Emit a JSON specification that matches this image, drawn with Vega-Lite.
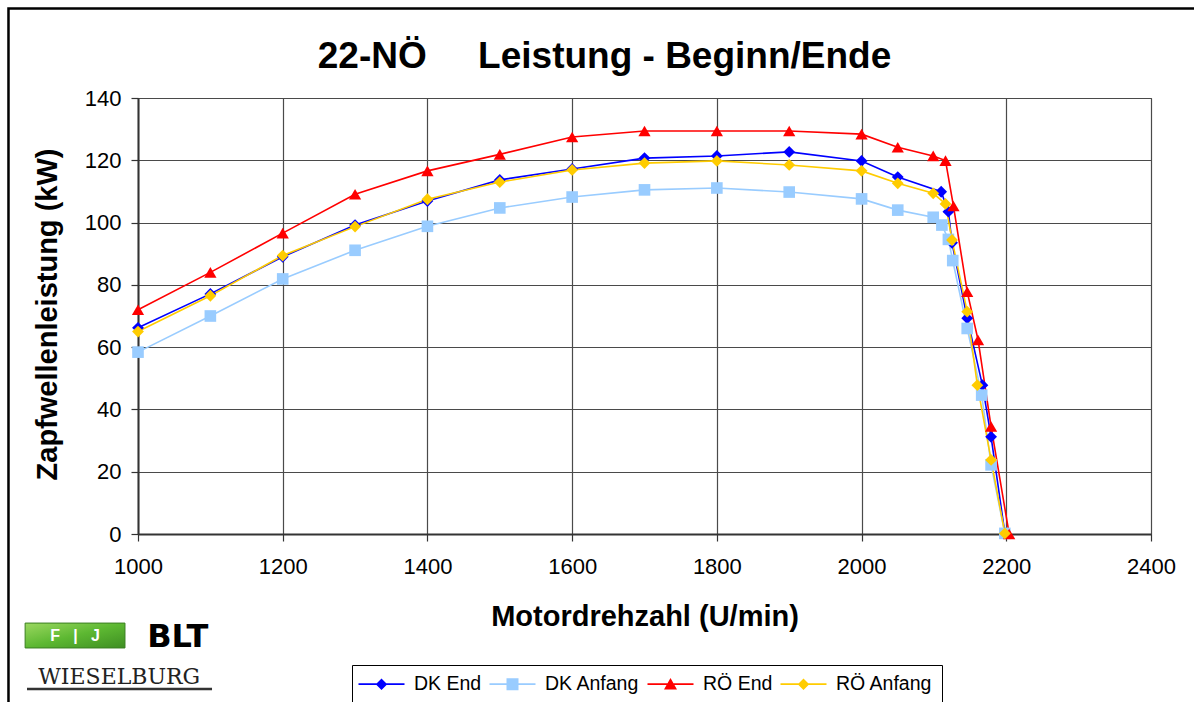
{
  "$schema": "https://vega.github.io/schema/vega-lite/v6.json",
  "width": 1013,
  "height": 436,
  "autosize": {"type": "none"},
  "padding": {"left": 138, "top": 98, "right": 43, "bottom": 168},
  "background": "white",
  "title": {
    "text": "22-NÖ\u00a0\u00a0\u00a0\u00a0\u00a0Leistung - Beginn/Ende",
    "font": "Liberation Sans",
    "fontSize": 37,
    "fontWeight": "bold",
    "color": "black",
    "anchor": "middle",
    "baseline": "bottom",
    "offset": -106,
    "dx": -40
  },
  "config": {
    "view": {"stroke": "#444444", "strokeWidth": 1},
    "axis": {
      "labelFont": "Liberation Sans",
      "labelFontSize": 22,
      "labelColor": "black",
      "labelFlush": false,
      "labelOverlap": false,
      "titleFont": "Liberation Sans",
      "titleFontSize": 29,
      "titleFontWeight": "bold",
      "titleColor": "black",
      "grid": true,
      "gridColor": "#4a4a4a",
      "gridWidth": 1.2,
      "domainColor": "#333333",
      "domainWidth": 2,
      "tickColor": "#333333",
      "tickWidth": 1.2,
      "tickSize": 7
    }
  },
  "datasets": {
    "rows": [
      {"rpm": 1000, "kW": 66.2, "series": "DK End"},
      {"rpm": 1100, "kW": 77.1, "series": "DK End"},
      {"rpm": 1200, "kW": 89.0, "series": "DK End"},
      {"rpm": 1300, "kW": 99.2, "series": "DK End"},
      {"rpm": 1400, "kW": 106.9, "series": "DK End"},
      {"rpm": 1500, "kW": 113.7, "series": "DK End"},
      {"rpm": 1600, "kW": 117.2, "series": "DK End"},
      {"rpm": 1700, "kW": 120.7, "series": "DK End"},
      {"rpm": 1800, "kW": 121.4, "series": "DK End"},
      {"rpm": 1900, "kW": 122.7, "series": "DK End"},
      {"rpm": 2000, "kW": 119.8, "series": "DK End"},
      {"rpm": 2050, "kW": 114.6, "series": "DK End"},
      {"rpm": 2110, "kW": 109.9, "series": "DK End"},
      {"rpm": 2120, "kW": 103.5, "series": "DK End"},
      {"rpm": 2125, "kW": 93.5, "series": "DK End"},
      {"rpm": 2146, "kW": 69.3, "series": "DK End"},
      {"rpm": 2167, "kW": 47.8, "series": "DK End"},
      {"rpm": 2179, "kW": 31.2, "series": "DK End"},
      {"rpm": 2198, "kW": 0.3, "series": "DK End"},
      {"rpm": 1000, "kW": 58.4, "series": "DK Anfang"},
      {"rpm": 1100, "kW": 70.0, "series": "DK Anfang"},
      {"rpm": 1200, "kW": 81.9, "series": "DK Anfang"},
      {"rpm": 1300, "kW": 91.1, "series": "DK Anfang"},
      {"rpm": 1400, "kW": 98.8, "series": "DK Anfang"},
      {"rpm": 1500, "kW": 104.7, "series": "DK Anfang"},
      {"rpm": 1600, "kW": 108.2, "series": "DK Anfang"},
      {"rpm": 1700, "kW": 110.5, "series": "DK Anfang"},
      {"rpm": 1800, "kW": 111.1, "series": "DK Anfang"},
      {"rpm": 1900, "kW": 109.8, "series": "DK Anfang"},
      {"rpm": 2000, "kW": 107.6, "series": "DK Anfang"},
      {"rpm": 2050, "kW": 104.0, "series": "DK Anfang"},
      {"rpm": 2099, "kW": 101.7, "series": "DK Anfang"},
      {"rpm": 2111, "kW": 99.2, "series": "DK Anfang"},
      {"rpm": 2120, "kW": 94.6, "series": "DK Anfang"},
      {"rpm": 2126, "kW": 87.8, "series": "DK Anfang"},
      {"rpm": 2146, "kW": 66.0, "series": "DK Anfang"},
      {"rpm": 2166, "kW": 44.6, "series": "DK Anfang"},
      {"rpm": 2179, "kW": 22.2, "series": "DK Anfang"},
      {"rpm": 2198, "kW": 0.2, "series": "DK Anfang"},
      {"rpm": 1000, "kW": 72.0, "series": "RÖ End"},
      {"rpm": 1100, "kW": 84.0, "series": "RÖ End"},
      {"rpm": 1200, "kW": 96.6, "series": "RÖ End"},
      {"rpm": 1300, "kW": 109.1, "series": "RÖ End"},
      {"rpm": 1400, "kW": 116.6, "series": "RÖ End"},
      {"rpm": 1500, "kW": 121.9, "series": "RÖ End"},
      {"rpm": 1600, "kW": 127.5, "series": "RÖ End"},
      {"rpm": 1700, "kW": 129.4, "series": "RÖ End"},
      {"rpm": 1800, "kW": 129.4, "series": "RÖ End"},
      {"rpm": 1900, "kW": 129.4, "series": "RÖ End"},
      {"rpm": 2000, "kW": 128.4, "series": "RÖ End"},
      {"rpm": 2050, "kW": 124.2, "series": "RÖ End"},
      {"rpm": 2099, "kW": 121.4, "series": "RÖ End"},
      {"rpm": 2116, "kW": 119.9, "series": "RÖ End"},
      {"rpm": 2127, "kW": 105.3, "series": "RÖ End"},
      {"rpm": 2146, "kW": 77.8, "series": "RÖ End"},
      {"rpm": 2161, "kW": 62.3, "series": "RÖ End"},
      {"rpm": 2179, "kW": 34.5, "series": "RÖ End"},
      {"rpm": 2204, "kW": 0.0, "series": "RÖ End"},
      {"rpm": 1000, "kW": 65.0, "series": "RÖ Anfang"},
      {"rpm": 1100, "kW": 76.5, "series": "RÖ Anfang"},
      {"rpm": 1200, "kW": 89.4, "series": "RÖ Anfang"},
      {"rpm": 1300, "kW": 98.7, "series": "RÖ Anfang"},
      {"rpm": 1400, "kW": 107.5, "series": "RÖ Anfang"},
      {"rpm": 1500, "kW": 113.0, "series": "RÖ Anfang"},
      {"rpm": 1600, "kW": 116.9, "series": "RÖ Anfang"},
      {"rpm": 1700, "kW": 119.1, "series": "RÖ Anfang"},
      {"rpm": 1800, "kW": 119.8, "series": "RÖ Anfang"},
      {"rpm": 1900, "kW": 118.5, "series": "RÖ Anfang"},
      {"rpm": 2000, "kW": 116.6, "series": "RÖ Anfang"},
      {"rpm": 2050, "kW": 112.6, "series": "RÖ Anfang"},
      {"rpm": 2099, "kW": 109.4, "series": "RÖ Anfang"},
      {"rpm": 2116, "kW": 106.0, "series": "RÖ Anfang"},
      {"rpm": 2125, "kW": 94.4, "series": "RÖ Anfang"},
      {"rpm": 2146, "kW": 71.4, "series": "RÖ Anfang"},
      {"rpm": 2160, "kW": 47.8, "series": "RÖ Anfang"},
      {"rpm": 2179, "kW": 23.8, "series": "RÖ Anfang"},
      {"rpm": 2198, "kW": 0.2, "series": "RÖ Anfang"}
    ]
  },
  "layer": [
    {
      "data": {"values": [{}]},
      "mark": {"type": "rect", "fillOpacity": 0, "stroke": "black", "strokeWidth": 2.5},
      "encoding": {
        "x": {"datum": 821},
        "x2": {"datum": 2482},
        "y": {"datum": 168.7},
        "y2": {"datum": -60}
      }
    },
    {
      "data": {"name": "rows"},
      "encoding": {
        "x": {
          "field": "rpm",
          "type": "quantitative",
          "scale": {"domain": [1000, 2400], "nice": false, "zero": false},
          "axis": {
            "values": [1000, 1200, 1400, 1600, 1800, 2000, 2200, 2400],
            "format": "d",
            "title": "Motordrehzahl (U/min)",
            "labelPadding": 15,
            "titleX": 506.5,
            "titleY": 91,
            "titleBaseline": "alphabetic"
          }
        },
        "y": {
          "field": "kW",
          "type": "quantitative",
          "scale": {"domain": [0, 140], "nice": false},
          "axis": {
            "values": [0, 20, 40, 60, 80, 100, 120, 140],
            "format": "d",
            "title": "Zapfwellenleistung (kW)",
            "labelPadding": 10,
            "titleX": -82,
            "titleY": 216,
            "titleBaseline": "alphabetic"
          }
        },
        "color": {
          "field": "series",
          "type": "nominal",
          "sort": null,
          "scale": {
            "domain": ["DK End", "DK Anfang", "RÖ End", "RÖ Anfang"],
            "range": ["#0000FF", "#99CCFF", "#FF0000", "#FFCC00"]
          },
          "legend": {
            "title": null,
            "orient": "none",
            "legendX": 214,
            "legendY": 567,
            "direction": "horizontal",
            "columns": 4,
            "padding": 9,
            "strokeColor": "black",
            "fillColor": "white",
            "labelFont": "Liberation Sans",
            "labelFontSize": 19.5,
            "labelColor": "black",
            "symbolSize": 100,
            "symbolStrokeWidth": 0,
            "symbolOffset": 10.75,
            "labelOffset": 22.75,
            "columnPadding": 7,
            "encode": {
              "symbols": {
                "update": {
                  "shape": {"signal": "datum.value === 'DK Anfang' ? 'M-4.6,-0.16H4.6V0.16H-4.6ZM-1.2,-1.2H1.2V1.2H-1.2Z' : datum.value === 'RÖ End' ? 'M-4.6,-0.16H4.6V0.16H-4.6ZM0,-1.25L1.3,1.05L-1.3,1.05Z' : 'M-4.6,-0.16H4.6V0.16H-4.6ZM0,-1.15L1.15,0L0,1.15L-1.15,0Z'"},
                  "fill": {"signal": "scale('color', datum.value)"},
                  "stroke": {"signal": "scale('color', datum.value)"},
                  "strokeWidth": {"value": 0},
                  "opacity": {"value": 1}
                }
              }
            }
          }
        }
      },
      "layer": [
        {"mark": {"type": "line", "strokeWidth": 1.6}},
        {
          "transform": [{"filter": "datum.series === 'DK End'"}],
          "mark": {"type": "point", "filled": true, "opacity": 1, "size": 140, "shape": "diamond"}
        },
        {
          "transform": [{"filter": "datum.series === 'DK Anfang'"}],
          "mark": {"type": "point", "filled": true, "opacity": 1, "size": 135, "shape": "square"}
        },
        {
          "transform": [{"filter": "datum.series === 'RÖ End'"}],
          "mark": {"type": "point", "filled": true, "opacity": 1, "size": 150, "shape": "triangle-up"}
        },
        {
          "transform": [{"filter": "datum.series === 'RÖ Anfang'"}],
          "mark": {"type": "point", "filled": true, "opacity": 1, "size": 140, "shape": "diamond"}
        }
      ]
    },
    {
      "data": {"values": [{}]},
      "mark": {
        "type": "rect",
        "color": {
          "gradient": "linear",
          "x1": 0, "y1": 0, "x2": 1, "y2": 1,
          "stops": [
            {"offset": 0, "color": "#9BD860"},
            {"offset": 0.5, "color": "#5DB832"},
            {"offset": 1, "color": "#3E8E22"}
          ]
        },
        "stroke": "#3A7F20",
        "strokeWidth": 1
      },
      "encoding": {
        "x": {"datum": 844},
        "x2": {"datum": 982},
        "y": {"datum": -28.6},
        "y2": {"datum": -36.6}
      }
    },
    {
      "data": {"values": [{}]},
      "mark": {"type": "text", "text": "F\u00a0\u00a0\u00a0|\u00a0\u00a0\u00a0J", "font": "Liberation Sans", "fontWeight": "bold", "fontSize": 16, "color": "white", "align": "center", "baseline": "middle"},
      "encoding": {
        "x": {"datum": 913},
        "y": {"datum": -32.6}
      }
    },
    {
      "data": {"values": [{}]},
      "mark": {"type": "text", "text": "BLT", "font": "DejaVu Sans", "fontWeight": "bold", "fontSize": 32, "color": "black", "align": "center", "baseline": "middle"},
      "encoding": {
        "x": {"datum": 1055},
        "y": {"datum": -33.0}
      }
    },
    {
      "data": {"values": [{}]},
      "mark": {"type": "text", "text": "WIESELBURG", "font": "DejaVu Serif", "fontSize": 22, "color": "#222222", "align": "center", "baseline": "middle"},
      "encoding": {
        "x": {"datum": 974},
        "y": {"datum": -45.8}
      }
    },
    {
      "data": {"values": [{}]},
      "mark": {"type": "rule", "color": "#333333", "strokeWidth": 2.5},
      "encoding": {
        "x": {"datum": 846.6},
        "x2": {"datum": 1102.3},
        "y": {"datum": -49.8}
      }
    }
  ]
}
